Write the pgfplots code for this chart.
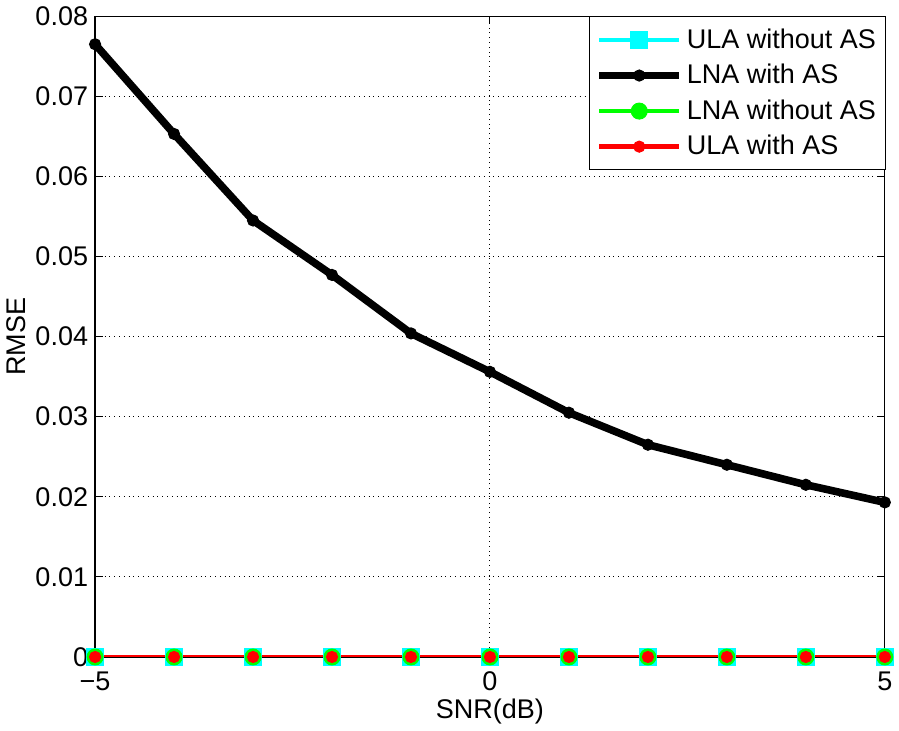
\documentclass[border=0pt]{standalone}
\usepackage{pgfplots}
\pgfplotsset{compat=1.18}
\usepackage{fontspec}
\setmainfont{Liberation Sans}
\definecolor{mcyan}{rgb}{0,1,1}
\definecolor{mgreen}{rgb}{0,1,0}
\definecolor{mred}{rgb}{1,0,0}

\begin{document}
\begin{tikzpicture}
\begin{axis}[
  scale only axis,
  width=395pt,
  height=320.5pt,
  xmin=-5, xmax=5,
  ymin=0, ymax=0.08,
  xtick={-5,0,5},
  xticklabels={−5,0,5},
  ytick={0,0.01,0.02,0.03,0.04,0.05,0.06,0.07,0.08},
  yticklabel style={/pgf/number format/fixed, /pgf/number format/precision=2},
  xticklabel style={yshift=-4pt},
  scaled y ticks=false,
  /pgf/number format/assume math mode=true,
  tick label style={font=\fontsize{13.5}{15}\selectfont},
  label style={font=\fontsize{13.5}{15}\selectfont},
  xlabel={SNR(dB)},
  ylabel={RMSE},
  xlabel style={yshift=3pt},
  ylabel style={yshift=-2pt},
  tick align=inside,
  major tick length=4pt,
  tick style={black, line width=0.5pt},
  axis line style={line width=0.6pt},
  grid=major,
  major grid style={black, dotted, line width=0.5pt},
  legend style={at={(1.002,1)}, anchor=north east, font=\fontsize{13.5}{15}\selectfont,
    draw=black, line width=0.5pt, cells={anchor=west}, row sep=2.5pt,
    inner xsep=3pt, inner ysep=4pt},
  legend image code/.code={
    \draw[mark repeat=2,mark phase=2] plot coordinates {(0cm,0cm) (0.7cm,0cm) (1.4cm,0cm)};
  },
]
\addplot[color=mcyan, line width=2pt, mark=square*, mark size=3.5pt, mark options={solid}] coordinates {
(-5,0) (-4,0) (-3,0) (-2,0) (-1,0) (0,0) (1,0) (2,0) (3,0) (4,0) (5,0)};
\addlegendentry{ULA without AS}
\addplot[color=black, line width=3.8pt, mark=*, mark size=2.8pt, mark options={line width=0.5pt}] coordinates {
(-5,0.0765) (-4,0.0653) (-3,0.0545) (-2,0.0477) (-1,0.0404) (0,0.0356) (1,0.0305) (2,0.0265) (3,0.0240) (4,0.0215) (5,0.0193)};
\addlegendentry{LNA with AS}
\addplot[color=mgreen, line width=2pt, mark=*, mark size=4pt, mark options={line width=0.5pt}] coordinates {
(-5,0) (-4,0) (-3,0) (-2,0) (-1,0) (0,0) (1,0) (2,0) (3,0) (4,0) (5,0)};
\addlegendentry{LNA without AS}
\addplot[color=mred, line width=2.2pt, mark=*, mark size=2.8pt, mark options={line width=0.5pt}] coordinates {
(-5,0) (-4,0) (-3,0) (-2,0) (-1,0) (0,0) (1,0) (2,0) (3,0) (4,0) (5,0)};
\addlegendentry{ULA with AS}
\end{axis}
\end{tikzpicture}
\end{document}
